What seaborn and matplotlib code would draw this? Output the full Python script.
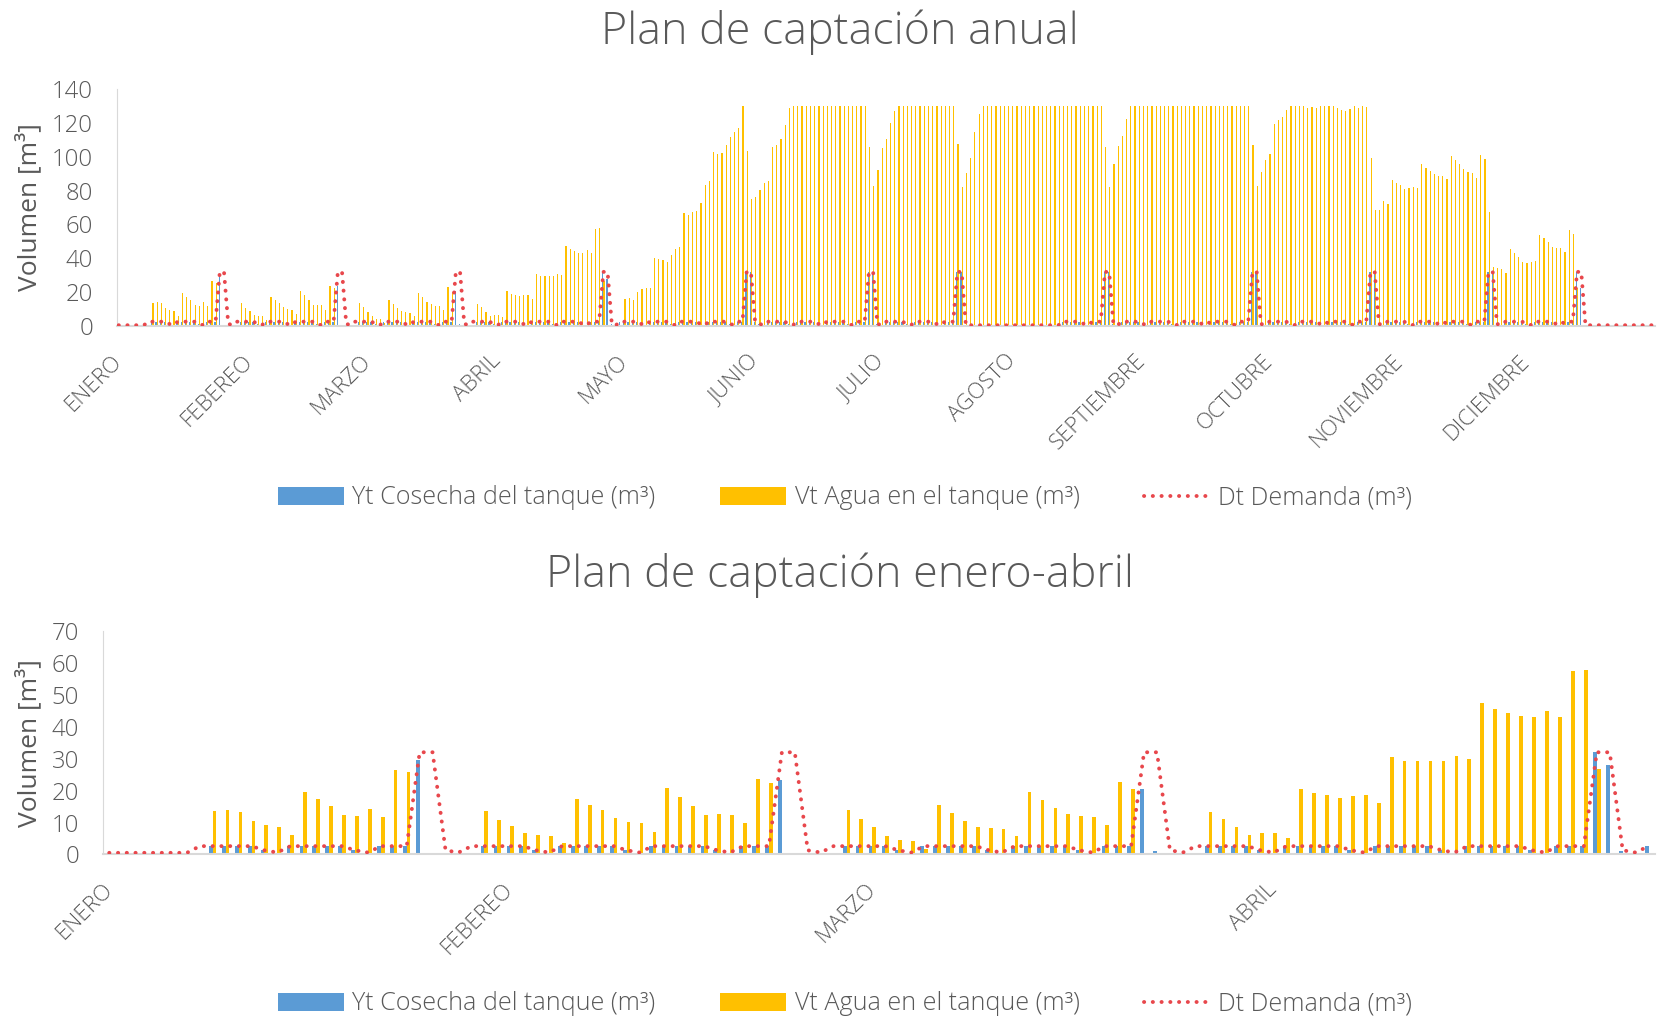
import numpy as np
import pandas as pd
import matplotlib
matplotlib.use("Agg")
import matplotlib.pyplot as plt
from matplotlib.patches import Patch
from matplotlib.lines import Line2D
import seaborn as sns

# ---------------- data ----------------
meses = ["ENERO", "FEBEREO", "MARZO", "ABRIL", "MAYO", "JUNIO", "JULIO",
         "AGOSTO", "SEPTIEMBRE", "OCTUBRE", "NOVIEMBRE", "DICIEMBRE"]
dias_mes = [31, 28, 31, 30, 31, 30, 31, 31, 30, 31, 30, 31]

# Vt  agua en el tanque (m3)
vt_ene = [0, 0, 0.3, 0.2, 0, 0, 0, 0, 13.6, 14.0, 13.4, 10.5, 9.2, 8.7, 6.1, 19.6,
          17.3, 15.2, 12.5, 12.0, 14.2, 11.8, 26.6, 25.7, 0, 0, 0, 0, 0, 13.5, 10.8]
vt_feb = [8.9, 6.6, 6.1, 5.8, 3.7, 17.4, 15.4, 13.9, 11.4, 10.2, 9.7, 7.1, 20.7, 18.1,
          15.2, 12.5, 12.6, 12.3, 9.7, 23.7, 22.5, 0, 0, 0, 0, 0, 13.9, 11.2]
vt_mar = [8.6, 5.7, 4.4, 4.1, 1.6, 15.6, 12.9, 10.4, 8.7, 8.2, 8.0, 5.7, 19.7, 17.1,
          14.4, 12.8, 12.0, 11.8, 9.2, 22.8, 20.4, 0, 0, 0, 0, 0, 13.3, 11.0, 8.5, 6.0, 6.6]
vt_abr = [6.6, 5.1, 20.6, 19.1, 18.6, 17.6, 18.3, 18.5, 16.0, 30.6, 29.4, 29.3, 29.3,
          29.3, 30.7, 30.0, 47.3, 45.5, 44.4, 43.3, 43.2, 44.9, 43.1, 57.6, 57.7, 26.8,
          0, 0, 0, 0.5]
vt_may = [15.9, 16.7, 15.5, 20.2, 21.6, 22.6, 22.6, 40.3, 39.9, 38.9, 37.7, 42.1, 45.8,
          46.6, 66.5, 65.5, 67.1, 67.7, 72.8, 83.1, 85.7, 103.0, 101.6, 102.2, 107.1,
          111.9, 114.7, 116.9, 130, 103.6, 74.8]
vt_jun = [76.4, 80.4, 84.5, 85.7, 105.7, 107.1, 110.7, 119.0, 128.9,
          130, 130, 130, 130, 130, 130, 130, 130, 130,
          130, 130, 130, 130, 130, 130, 130, 130, 130,
          105.8, 82.5, 92.1]
vt_jul = [105.4, 110.5, 119.8, 127.2,
          130, 130, 130, 130, 130, 130, 130, 130, 130, 130, 130, 130, 130, 130,
          107.7, 82.3, 90.5, 99.0, 114.5, 125.2,
          130, 130, 130, 130, 130, 130, 130]
vt_ago = [130, 130, 130, 130, 130, 130, 130, 130, 130, 130, 130,
          130, 130, 130, 130, 130, 130, 130, 130, 130, 130, 130,
          105.8, 82.3, 95.8, 106.5, 112.1, 122.2, 130, 130, 130]
vt_sep = [130, 130, 130, 130, 130, 130, 130, 130, 130, 130, 130, 130, 130,
          130, 130, 130, 130, 130, 130, 130, 130, 130, 130, 130, 130, 130,
          106.7, 82.9, 90.9, 97.8]
vt_oct = [101.8, 119.2, 121.4, 123.2, 127.6, 130, 130, 130, 130, 129.0, 129.2, 128.6,
          130, 130, 130, 130, 128.6, 127.6, 127.0, 128.2, 130, 129.0, 130, 129.2,
          99.4, 68.7, 68.7, 73.8, 71.8, 86.3, 84.7]
vt_nov = [83.5, 81.2, 81.7, 82.3, 81.7, 95.4, 93.1, 91.3, 89.5, 88.9, 88.7, 86.9,
          100.4, 97.8, 95.4, 92.5, 90.9, 90.3, 87.7, 101.2, 98.4, 67.1, 34.9, 34.3,
          33.7, 31.2, 45.4, 43.3, 40.5, 37.7]
vt_dic = [37.5, 38.1, 38.5, 53.8, 51.8, 49.4, 46.6, 46.0, 46.0, 43.8, 56.9, 54.6, 22.4,
          0, 0, 0, 0, 0, 0, 0, 0, 0, 0, 0, 0, 0, 0, 0, 0, 0, 0]

# Dt  demanda (m3)
dt_ene = [0.5, 0.5, 0.5, 0.5, 0.5, 0.5, 0.5, 2.6, 2.6, 2.6, 2.6, 2.6, 1.3, 0.6,
          2.6, 2.6, 2.6, 2.6, 2.6, 1.3, 0.6, 2.6, 2.6, 2.6, 32, 32, 1.3, 0.6,
          2.6, 2.6, 2.6]
dt_feb = [2.6, 2.6, 1.3, 0.6, 2.6, 2.6, 2.6, 2.6, 2.6, 1.3, 0.6, 2.6, 2.6, 2.6,
          2.6, 2.6, 1.3, 0.6, 2.6, 2.6, 2.6, 32, 32, 1.3, 0.6, 2.6, 2.6, 2.6]
dt_mar = [2.6, 2.6, 1.3, 0.6, 2.6, 2.6, 2.6, 2.6, 2.6, 1.3, 0.6, 2.6, 2.6, 2.6,
          2.6, 2.6, 1.3, 0.6, 2.6, 2.6, 2.6, 32, 32, 1.3, 0.6, 2.6, 2.6, 2.6,
          2.6, 2.6, 1.3]
dt_abr = [0.6, 2.6, 2.6, 2.6, 2.6, 2.6, 1.3, 0.6, 2.6, 2.6, 2.6, 2.6, 2.6, 1.3,
          0.6, 2.6, 2.6, 2.6, 2.6, 2.6, 1.3, 0.6, 2.6, 2.6, 2.6, 32, 32, 1.3,
          0.6, 2.6]
dt_may = [2.6, 2.6, 2.6, 2.6, 1.3, 0.6, 2.6, 2.6, 2.6, 2.6, 2.6, 1.3, 0.6, 2.6,
          2.6, 2.6, 2.6, 2.6, 1.3, 0.6, 2.6, 2.6, 2.6, 2.6, 2.6, 1.3, 0.6, 2.6,
          2.6, 32, 32]
dt_jun = [2.6, 1.3, 0.6, 2.6, 2.6, 2.6, 2.6, 2.6, 1.3, 0.6, 2.6, 2.6, 2.6, 2.6,
          2.6, 1.3, 0.6, 2.6, 2.6, 2.6, 2.6, 2.6, 1.3, 0.6, 2.6, 2.6, 2.6, 32,
          32, 1.3]
dt_jul = [0.6, 2.6, 2.6, 2.6, 2.6, 2.6, 1.3, 0.6, 2.6, 2.6, 2.6, 2.6, 2.6, 1.3,
          0.6, 2.6, 2.6, 2.6, 32, 32, 0.5, 0.5, 0.5, 0.5, 0.5, 0.5, 0.5, 0.5,
          0.5, 0.5, 0.5]
dt_ago = [0.5, 0.5, 0.5, 0.5, 0.5, 0.5, 0.5, 0.5, 0.5, 0.5, 0.5, 0.6, 2.6, 2.6,
          2.6, 2.6, 2.6, 1.3, 0.6, 2.6, 2.6, 2.6, 32, 32, 1.3, 0.6, 2.6, 2.6,
          2.6, 2.6, 2.6]
dt_sep = [1.3, 0.6, 2.6, 2.6, 2.6, 2.6, 2.6, 1.3, 0.6, 2.6, 2.6, 2.6, 2.6, 2.6,
          1.3, 0.6, 2.6, 2.6, 2.6, 2.6, 2.6, 1.3, 0.6, 2.6, 2.6, 2.6, 32, 32,
          1.3, 0.6]
dt_oct = [2.6, 2.6, 2.6, 2.6, 2.6, 1.3, 0.6, 2.6, 2.6, 2.6, 2.6, 2.6, 1.3, 0.6,
          2.6, 2.6, 2.6, 2.6, 2.6, 1.3, 0.6, 2.6, 2.6, 2.6, 32, 32, 1.3, 0.6,
          2.6, 2.6, 2.6]
dt_nov = [2.6, 2.6, 1.3, 0.6, 2.6, 2.6, 2.6, 2.6, 2.6, 1.3, 0.6, 2.6, 2.6, 2.6,
          2.6, 2.6, 1.3, 0.6, 2.6, 2.6, 2.6, 32, 32, 1.3, 0.6, 2.6, 2.6, 2.6,
          2.6, 2.6]
dt_dic = [1.3, 0.6, 2.6, 2.6, 2.6, 2.6, 2.6, 1.3, 0.6, 2.6, 2.6, 2.6, 32, 32,
          0.5, 0.5, 0.5, 0.5, 0.5, 0.5, 0.5, 0.5, 0.5, 0.5, 0.5, 0.5, 0.5, 0.5,
          0.5, 0.5, 0.5]

# Yt  cosecha del tanque (m3)
yt_ene = [0, 0, 0.3, 0.3, 0.3, 0.3, 0.3, 0.3, 2.6, 2.6, 2.6, 2.6, 1.3, 0.6,
          2.6, 2.6, 2.6, 2.6, 2.6, 1.3, 0.6, 2.6, 2.6, 2.6, 29.5, 0, 0, 0,
          0, 2.6, 2.6]
yt_feb = [2.6, 2.6, 1.3, 0.6, 2.6, 2.6, 2.6, 2.6, 2.6, 1.3, 0.6, 2.6, 2.6, 2.6,
          2.6, 2.6, 1.3, 0.6, 2.6, 2.6, 2.6, 23.4, 0, 0.3, 0.2, 0.5, 2.6, 2.6]
yt_mar = [2.6, 2.6, 1.3, 0.6, 2.6, 2.6, 2.6, 2.6, 2.6, 1.3, 0.6, 2.6, 2.6, 2.6,
          2.6, 2.6, 1.3, 0.6, 2.6, 2.6, 2.6, 20.5, 1.0, 0.3, 0, 0, 2.6, 2.6,
          2.6, 2.6, 1.3]
yt_abr = [0.6, 2.6, 2.6, 2.6, 2.6, 2.6, 1.3, 0.6, 2.6, 2.6, 2.6, 2.6, 2.6, 1.3,
          0.6, 2.6, 2.6, 2.6, 2.6, 2.6, 1.3, 0.6, 2.6, 2.6, 2.6, 32, 28, 1.0,
          0.3, 2.5]
yt_may = [2.6, 2.6, 2.6, 2.6, 1.3, 0.6, 2.6, 2.6, 2.6, 2.6, 2.6, 1.3, 0.6, 2.6,
          2.6, 2.6, 2.6, 2.6, 1.3, 0.6, 2.6, 2.6, 2.6, 2.6, 2.6, 1.3, 0.6, 2.6,
          2.6, 32, 32]
yt_jun = [2.6, 1.3, 0.6, 2.6, 2.6, 2.6, 2.6, 2.6, 1.3, 0.6, 2.6, 2.6, 2.6, 2.6,
          2.6, 1.3, 0.6, 2.6, 2.6, 2.6, 2.6, 2.6, 1.3, 0.6, 2.6, 2.6, 2.6, 32,
          32, 1.3]
yt_jul = [0.6, 2.6, 2.6, 2.6, 2.6, 2.6, 1.3, 0.6, 2.6, 2.6, 2.6, 2.6, 2.6, 1.3,
          0.6, 2.6, 2.6, 2.6, 32, 32, 0.5, 0.5, 0.5, 0.5, 0.5, 0.5, 0.5, 0.5,
          0.5, 0.5, 0.5]
yt_ago = [0.5, 0.5, 0.5, 0.5, 0.5, 0.5, 0.5, 0.5, 0.5, 0.5, 0.5, 0.6, 2.6, 2.6,
          2.6, 2.6, 2.6, 1.3, 0.6, 2.6, 2.6, 2.6, 32, 32, 1.3, 0.6, 2.6, 2.6,
          2.6, 2.6, 2.6]
yt_sep = [1.3, 0.6, 2.6, 2.6, 2.6, 2.6, 2.6, 1.3, 0.6, 2.6, 2.6, 2.6, 2.6, 2.6,
          1.3, 0.6, 2.6, 2.6, 2.6, 2.6, 2.6, 1.3, 0.6, 2.6, 2.6, 2.6, 32, 32,
          1.3, 0.6]
yt_oct = [2.6, 2.6, 2.6, 2.6, 2.6, 1.3, 0.6, 2.6, 2.6, 2.6, 2.6, 2.6, 1.3, 0.6,
          2.6, 2.6, 2.6, 2.6, 2.6, 1.3, 0.6, 2.6, 2.6, 2.6, 32, 32, 1.3, 0.6,
          2.6, 2.6, 2.6]
yt_nov = [2.6, 2.6, 1.3, 0.6, 2.6, 2.6, 2.6, 2.6, 2.6, 1.3, 0.6, 2.6, 2.6, 2.6,
          2.6, 2.6, 1.3, 0.6, 2.6, 2.6, 2.6, 32, 32, 1.3, 0.6, 2.6, 2.6, 2.6,
          2.6, 2.6]
yt_dic = [1.3, 0.6, 2.6, 2.6, 2.6, 2.6, 2.6, 1.3, 0.6, 2.6, 2.6, 2.6, 32, 22.4,
          0, 0, 0, 0, 0, 0, 0, 0, 0, 0, 0, 0, 0, 0, 0, 0, 0]

titulo_anual = "Plan de captación anual"
titulo_ea = "Plan de captación enero-abril"
etiqueta_y = "Volumen [m³]"
leyenda = ["Yt Cosecha del tanque (m³)", "Vt Agua en el tanque (m³)", "Dt Demanda (m³)"]

vt = sum([vt_ene, vt_feb, vt_mar, vt_abr, vt_may, vt_jun, vt_jul, vt_ago,
          vt_sep, vt_oct, vt_nov, vt_dic], [])
dt = sum([dt_ene, dt_feb, dt_mar, dt_abr, dt_may, dt_jun, dt_jul, dt_ago,
          dt_sep, dt_oct, dt_nov, dt_dic], [])
yt = sum([yt_ene, yt_feb, yt_mar, yt_abr, yt_may, yt_jun, yt_jul, yt_ago,
          yt_sep, yt_oct, yt_nov, yt_dic], [])
inicio_mes = list(np.cumsum([0] + dias_mes[:-1]))
n_ea = sum(dias_mes[:4])

# ---------------- style ----------------
AZUL = "#5B9BD5"
AMARILLO = "#FFC000"
ROJO = "#E8474C"
GRIS = "#595959"
EJE = "#D9D9D9"
sns.set_style("white")
plt.rcParams["font.family"] = ["Open Sans", "DejaVu Sans"]
plt.rcParams["font.weight"] = "light"
DOTS = (0, (0.05, 2.2))

fig = plt.figure(figsize=(16.6, 10.19), dpi=100)
ax1 = fig.add_axes([0.0702, 0.680, 0.9268, 0.2327])
ax2 = fig.add_axes([0.0619, 0.1615, 0.9351, 0.2193])


def dibujar(ax, v, y, d, ticks, labels, ymax, paso):
    n = len(v)
    dias = np.arange(n)
    df = pd.DataFrame({
        "dia": np.concatenate([dias, dias]),
        "valor": np.concatenate([y, v]),
        "serie": ["Yt"] * n + ["Vt"] * n,
    })
    sns.barplot(data=df, x="dia", y="valor", hue="serie", hue_order=["Yt", "Vt"],
                palette={"Yt": AZUL, "Vt": AMARILLO}, width=0.571, gap=0,
                saturation=1, errorbar=None, legend=False, ax=ax, linewidth=0)
    sns.lineplot(x=dias, y=d, ax=ax, color=ROJO, linewidth=2.8, linestyle=DOTS,
                 dash_capstyle="round", estimator=None, legend=False, zorder=5)
    ax.set_xlim(-0.5, n - 0.5)
    ax.set_ylim(0, ymax)
    ax.set_yticks(np.arange(0, ymax + 1, paso))
    ax.set_xticks(ticks)
    ax.set_xticklabels(labels, rotation=45, ha="right", va="center",
                       rotation_mode="anchor")
    ax.tick_params(axis="y", length=0, pad=17, labelsize=17.2, labelcolor=GRIS)
    ax.tick_params(axis="x", length=0, pad=23, labelsize=15.9, labelcolor=GRIS)
    ax.set_xlabel("")
    ax.set_ylabel(etiqueta_y, fontsize=19, color=GRIS)
    for s in ["top", "right"]:
        ax.spines[s].set_visible(False)
    ax.spines["left"].set_color(EJE)
    ax.spines["left"].set_linewidth(0.8)
    ax.spines["bottom"].set_color(EJE)
    ax.spines["bottom"].set_linewidth(1.5)
    ax.grid(False)


dibujar(ax1, vt, yt, dt, inicio_mes, meses, 140, 20)
ax1.yaxis.set_label_coords(-0.0484, 0.5)
dibujar(ax2, vt[:n_ea], yt[:n_ea], dt[:n_ea], inicio_mes[:4], meses[:4], 70, 10)
ax2.yaxis.set_label_coords(-0.039, 0.5)

fig.text(0.506, 1 - 32 / 1019, titulo_anual, ha="center", va="center",
         fontsize=32.2, color=GRIS)
fig.text(0.506, 1 - 575 / 1019, titulo_ea, ha="center", va="center",
         fontsize=32.2, color=GRIS)

handles = [Patch(facecolor=AZUL, edgecolor="none"),
           Patch(facecolor=AMARILLO, edgecolor="none"),
           Line2D([0], [0], color=ROJO, linewidth=2.8, linestyle=DOTS,
                  dash_capstyle="round")]
for yy in (1 - 498 / 1019, 1 - 1004 / 1019):
    fig.legend(handles, leyenda, loc="center", bbox_to_anchor=(0.509, yy), ncol=3,
               frameon=False, fontsize=18.1, labelcolor=GRIS, handlelength=2.65,
               handletextpad=0.33, columnspacing=2.55)

fig.savefig("out.png", dpi=100)
